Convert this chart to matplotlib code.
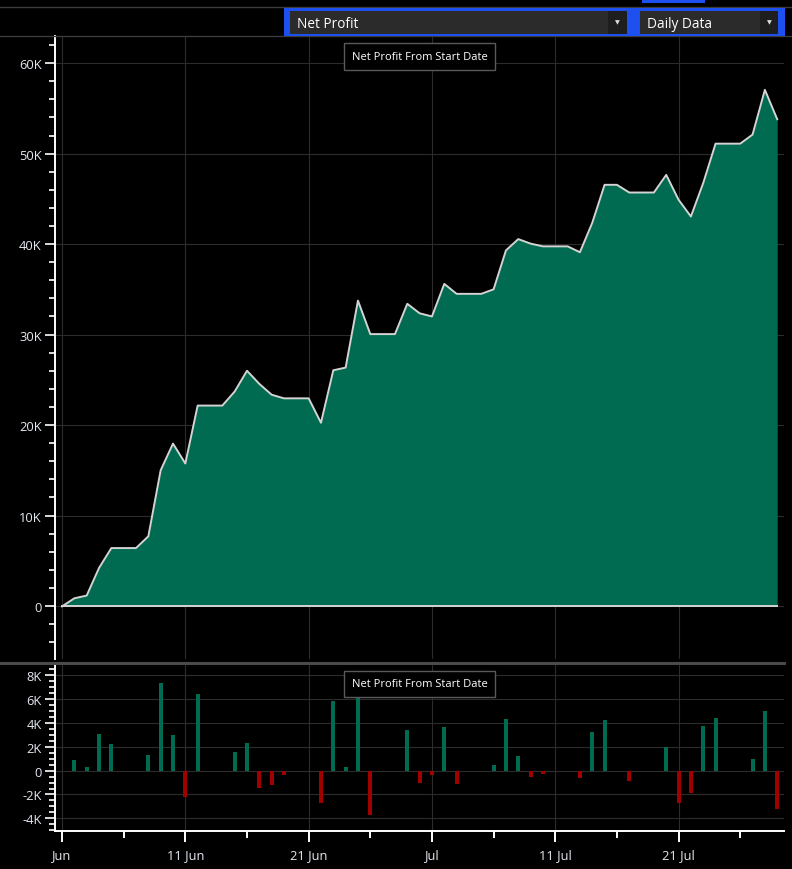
import matplotlib.pyplot as plt
import matplotlib.dates as mdates
from matplotlib.patches import Rectangle
from matplotlib.lines import Line2D
import numpy as np
import pandas as pd

plt.rcParams['font.family'] = ['Open Sans', 'DejaVu Sans']

# daily net profit, in thousands (1 Jun .. 29 Jul)
dates = pd.date_range('2015-06-01', '2015-07-29', freq='D')
daily_k = [-0.05, 0.9, 0.3, 3.05, 2.2, 0, 0,
           1.3, 7.3, 2.95, -2.2, 6.4, 0, 0,
           1.55, 2.3, -1.45, -1.2, -0.4, 0, 0,
           -2.7, 5.8, 0.3, 7.4, -3.7, 0, 0,
           3.35, -1.05, -0.35, 3.6, -1.1, 0, 0,
           0.5, 4.3, 1.25, -0.5, -0.3, 0, 0,
           -0.65, 3.25, 4.2, 0, -0.85, 0, 0,
           1.95, -2.75, -1.85, 3.7, 4.35, 0, 0,
           1.0, 4.95, -3.25]
daily = np.array(daily_k) * 1000
cum = np.cumsum(daily)

tick_dates = pd.to_datetime(['2015-06-01', '2015-06-11', '2015-06-21',
                             '2015-07-01', '2015-07-11', '2015-07-21'])
tick_labels = ['Jun', '11 Jun', '21 Jun', 'Jul', '11 Jul', '21 Jul']
minor_dates = pd.to_datetime(['2015-06-06', '2015-06-16', '2015-06-26',
                              '2015-07-06', '2015-07-16', '2015-07-26'])

W, H = 792, 870
bg = '#000000'
grid_c = '#2c2c2c'
txt_c = '#e4e8f0'
green = '#006b50'
red = '#a00000'

fig = plt.figure(figsize=(W / 100, H / 100), dpi=100, facecolor=bg)

def fx(x):
    return x / W

def fy(y):
    return 1 - y / H

def kfmt(v, pos=None):
    if abs(v) < 1e-6:
        return '0'
    return '%dK' % int(round(v / 1000))

x0 = mdates.date2num(dates[0])
xlim = (x0 - 0.57, x0 + 58.55)

# main cumulative panel
ax = fig.add_axes([fx(55), fy(660), fx(784) - fx(55), fy(37) - fy(660)], facecolor=bg)
ax.fill_between(dates, 0, cum, color=green, lw=0, zorder=2)
ax.plot(dates, cum, color='#d4d4d4', lw=1.4, zorder=3)
ax.plot([dates[0], dates[-1]], [0, 0], color='#d4d4d4', lw=1.4, zorder=3)
ax.set_xlim(xlim)
ax.set_ylim(-5860, 63000)
ax.set_yticks(np.arange(0, 60001, 10000))
ax.set_yticks(np.arange(-4000, 63000, 2000), minor=True)
ax.yaxis.set_major_formatter(plt.FuncFormatter(kfmt))
ax.set_xticks(tick_dates)
ax.set_xticklabels([])
ax.tick_params(axis='x', length=0)
ax.tick_params(axis='y', which='major', colors='white', length=7.5, width=1.2,
               labelcolor=txt_c, labelsize=9.3, pad=2)
ax.tick_params(axis='y', which='minor', colors='white', length=4.3, width=1.2)
ax.grid(True, which='major', color=grid_c, lw=0.8, zorder=0)
for s in ['top', 'right', 'bottom']:
    ax.spines[s].set_visible(False)
ax.spines['left'].set_color('white')
ax.spines['left'].set_linewidth(1.4)

# daily bars panel
bx = fig.add_axes([fx(55), fy(832), fx(784) - fx(55), fy(665) - fy(832)], facecolor=bg)
colors = [green if v >= 0 else red for v in daily]
bx.bar(dates, daily, width=0.33, color=colors, zorder=2)
bx.set_xlim(xlim)
bx.set_ylim(-5050, 8900)
bx.set_yticks(np.arange(-4000, 8001, 2000))
bx.set_yticks(np.arange(-5000, 8900, 500), minor=True)
bx.yaxis.set_major_formatter(plt.FuncFormatter(kfmt))
bx.set_xticks(tick_dates)
bx.set_xticklabels(tick_labels)
bx.set_xticks(minor_dates, minor=True)
bx.tick_params(axis='y', which='major', colors='white', length=7.5, width=1.2,
               labelcolor=txt_c, labelsize=9.3, pad=2)
bx.tick_params(axis='y', which='minor', colors='white', length=4.3, width=1.2)
bx.tick_params(axis='x', which='major', colors='white', length=8, width=1.4,
               labelcolor=txt_c, labelsize=9.3, pad=4)
bx.tick_params(axis='x', which='minor', colors='white', length=5, width=1.4)
bx.grid(True, which='major', color=grid_c, lw=0.8, zorder=0)
for s in ['top', 'right']:
    bx.spines[s].set_visible(False)
for s in ['left', 'bottom']:
    bx.spines[s].set_color('white')
    bx.spines[s].set_linewidth(1.4)

# figure lines: header rules and panel separator
fig.add_artist(Line2D([0, 1], [fy(8), fy(8)], color='#3c3c3c', lw=1))
fig.add_artist(Line2D([0, 1], [fy(37), fy(37)], color='#3c3c3c', lw=1))
fig.add_artist(Line2D([0, fx(784)], [fy(663.5), fy(663.5)], color='#4a4a4a', lw=2.2))
fig.add_artist(Line2D([fx(643), fx(703)], [fy(1.5), fy(1.5)], color='#1e50f0', lw=2.2))

def rect(x1, y1, x2, y2, face, edge='none', lw=0, z=5):
    fig.add_artist(Rectangle((fx(x1), fy(y2)), fx(x2) - fx(x1), fy(y1) - fy(y2),
                             transform=fig.transFigure, facecolor=face,
                             edgecolor=edge, lw=lw, zorder=z))

# dropdowns
rect(284, 9, 785, 37, '#1e50f0')
rect(290, 12, 608, 35, '#2b2b2b', z=6)
rect(608, 12, 627, 35, '#1e1e1e', z=6)
rect(640, 12, 760, 35, '#2b2b2b', z=6)
rect(760, 12, 778, 35, '#1e1e1e', z=6)
fig.text(fx(297), fy(24), 'Net Profit', color='white', fontsize=9.8,
         va='center', ha='left', zorder=7)
fig.text(fx(647), fy(24), 'Daily Data', color='white', fontsize=9.8,
         va='center', ha='left', zorder=7)
for xa in [617.5, 769]:
    fig.text(fx(xa), fy(22.5), '\u25bc', color='#e0e0e0', fontsize=4.5,
             va='center', ha='center', family='DejaVu Sans', zorder=7)

# chart captions
for y1, y2 in [(44, 71), (672, 698)]:
    rect(344, y1, 495, y2, '#000000', edge='#5a5a5a', lw=1, z=8)
    fig.text(fx(419.5), fy((y1 + y2) / 2), 'Net Profit From Start Date',
             color='white', fontsize=8, va='center', ha='center', zorder=9)

fig.savefig('out.png', dpi=100, facecolor=bg)
